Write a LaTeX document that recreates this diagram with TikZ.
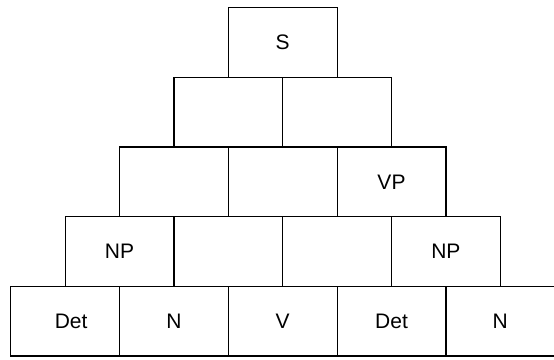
\documentclass[tikz,border=0pt]{standalone}
\usepackage{fontspec}
\setmainfont{Liberation Sans}
\begin{document}
\begin{tikzpicture}[x=1pt,y=-1pt,
  cell/.style={draw=black, line width=1.2pt, rectangle,
    minimum width=108.8pt, minimum height=69.66pt, inner sep=0pt,
    font=\fontsize{21}{25}\selectfont}]
\useasboundingbox (0,0) rectangle (554,359);
% row 1 (top)
\node[cell] (c15) at (282.7,42.5) {S};
% row 2
\node[cell] (c14) at (228.3,112.2) {};
\node[cell] (c25) at (337.1,112.2) {};
% row 3
\node[cell] (c13) at (173.9,181.8) {};
\node[cell] (c24) at (282.7,181.8) {};
\node[cell] (c35) at (391.5,181.8) {VP};
% row 4
\node[cell] (c12) at (119.5,251.5) {NP};
\node[cell] (c23) at (228.3,251.5) {};
\node[cell] (c34) at (337.1,251.5) {};
\node[cell] (c45) at (445.9,251.5) {NP};
% row 5 (words)
\node[cell] (c11) at (65.1,321.2) {\hspace*{12pt}Det};
\node[cell] (c22) at (173.9,321.2) {N};
\node[cell] (c33) at (282.7,321.2) {V};
\node[cell] (c44) at (391.5,321.2) {Det};
\node[cell] (c55) at (500.3,321.2) {N};
\end{tikzpicture}
\end{document}
